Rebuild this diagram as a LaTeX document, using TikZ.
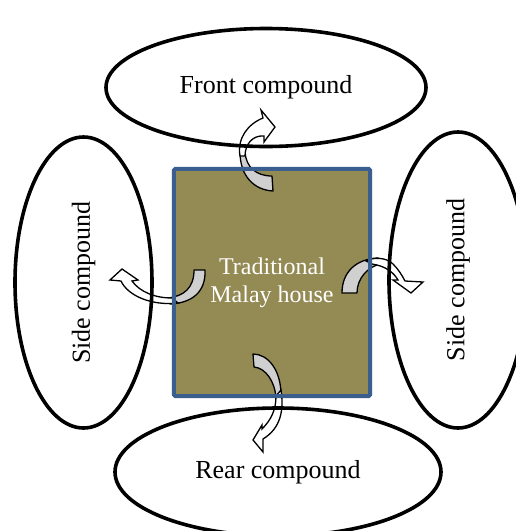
\documentclass[tikz,border=0pt]{standalone}
\usepackage{fontspec}
\setmainfont{Liberation Serif}
\usepackage{tikz}
\usetikzlibrary{shapes}
\definecolor{housefill}{HTML}{948A54}
\definecolor{houseborder}{HTML}{3A5F8E}
\definecolor{arrowgray}{HTML}{D0D0D0}

\tikzset{
    compound/.style={ellipse,draw=black,line width=3.6pt,inner sep=0pt,font=\fontsize{26}{30}\selectfont},
    house/.style={rectangle,fill=housefill,inner sep=0pt,text=white,align=center,font=\fontsize{24}{28}\selectfont},
    houseline/.style={draw=houseborder,line width=4pt,rounded corners=1.5pt},
    arrowback/.style={fill=arrowgray,draw=black,line width=1.3pt,line join=round},
    arrowfront/.style={fill=white,draw=black,line width=1.3pt,line join=miter}
}

\begin{document}
\begin{tikzpicture}[x=1pt,y=-1pt]
    \useasboundingbox (0,0) rectangle (515,531);
    \node[house,minimum width=196,minimum height=227] (house) at (272,282.5) {Traditional\\Malay house};
    \begin{scope}
    \path[arrowback] (273,191) .. controls (254,190) and (240,176) .. (240,152) -- (245,152) .. controls (246,167) and (256,176) .. (272,176) -- cycle;
    \path[arrowfront] (240,156) .. controls (237,138) and (248,124) .. (263,118) -- (261,110) -- (275,127) -- (264,142) -- (264,136) .. controls (252,135) and (245,145) .. (245,156) -- cycle;
    \path[arrowback] (205,270) .. controls (206,292) and (192,303) .. (170,304) -- (168,298) .. controls (184,296) and (194,288) .. (194,270) -- cycle;
    \path[arrowfront] (178,303) .. controls (152,306) and (128,296) .. (121,281) -- (110,280) -- (122,269) -- (138,280) -- (132,281) .. controls (140,292) and (155,298) .. (172,298) -- cycle;
    \path[arrowback] (342,293) .. controls (342,272) and (356,259) .. (378,258) -- (380,264) .. controls (368,267) and (357,278) .. (357,293) -- cycle;
    \path[arrowfront] (366,261) .. controls (373,257) and (386,257) .. (393,264) .. controls (398,269) and (402,275) .. (405,281) -- (423,282) -- (411,293) -- (393,280) -- (398,280) .. controls (394,273) and (386,266) .. (372,264) -- cycle;
    \path[arrowback] (253,354) .. controls (268,354) and (281,370) .. (281,395) -- (276,398) .. controls (275,382) and (266,368) .. (254,367) -- cycle;
    \path[arrowfront] (281,390) .. controls (284,410) and (281,428) .. (263,439) -- (263,452) -- (253,440) -- (262,425) -- (262,429) .. controls (271,420) and (276,410) .. (276,396) -- cycle;
    \end{scope}
    \draw[houseline] (house.north west) rectangle (house.south east);
    \node[compound,minimum width=320,minimum height=118] (front) at (266,87.5) {Front compound};
    \node[compound,minimum width=326,minimum height=128] (rear) at (278,472) {Rear compound};
    \node[compound,rotate=90,minimum width=291,minimum height=137] (leftside) at (83.5,282.5) {Side compound};
    \node[compound,rotate=90,minimum width=296,minimum height=138] (rightside) at (458,280) {Side compound};
\end{tikzpicture}
\end{document}
